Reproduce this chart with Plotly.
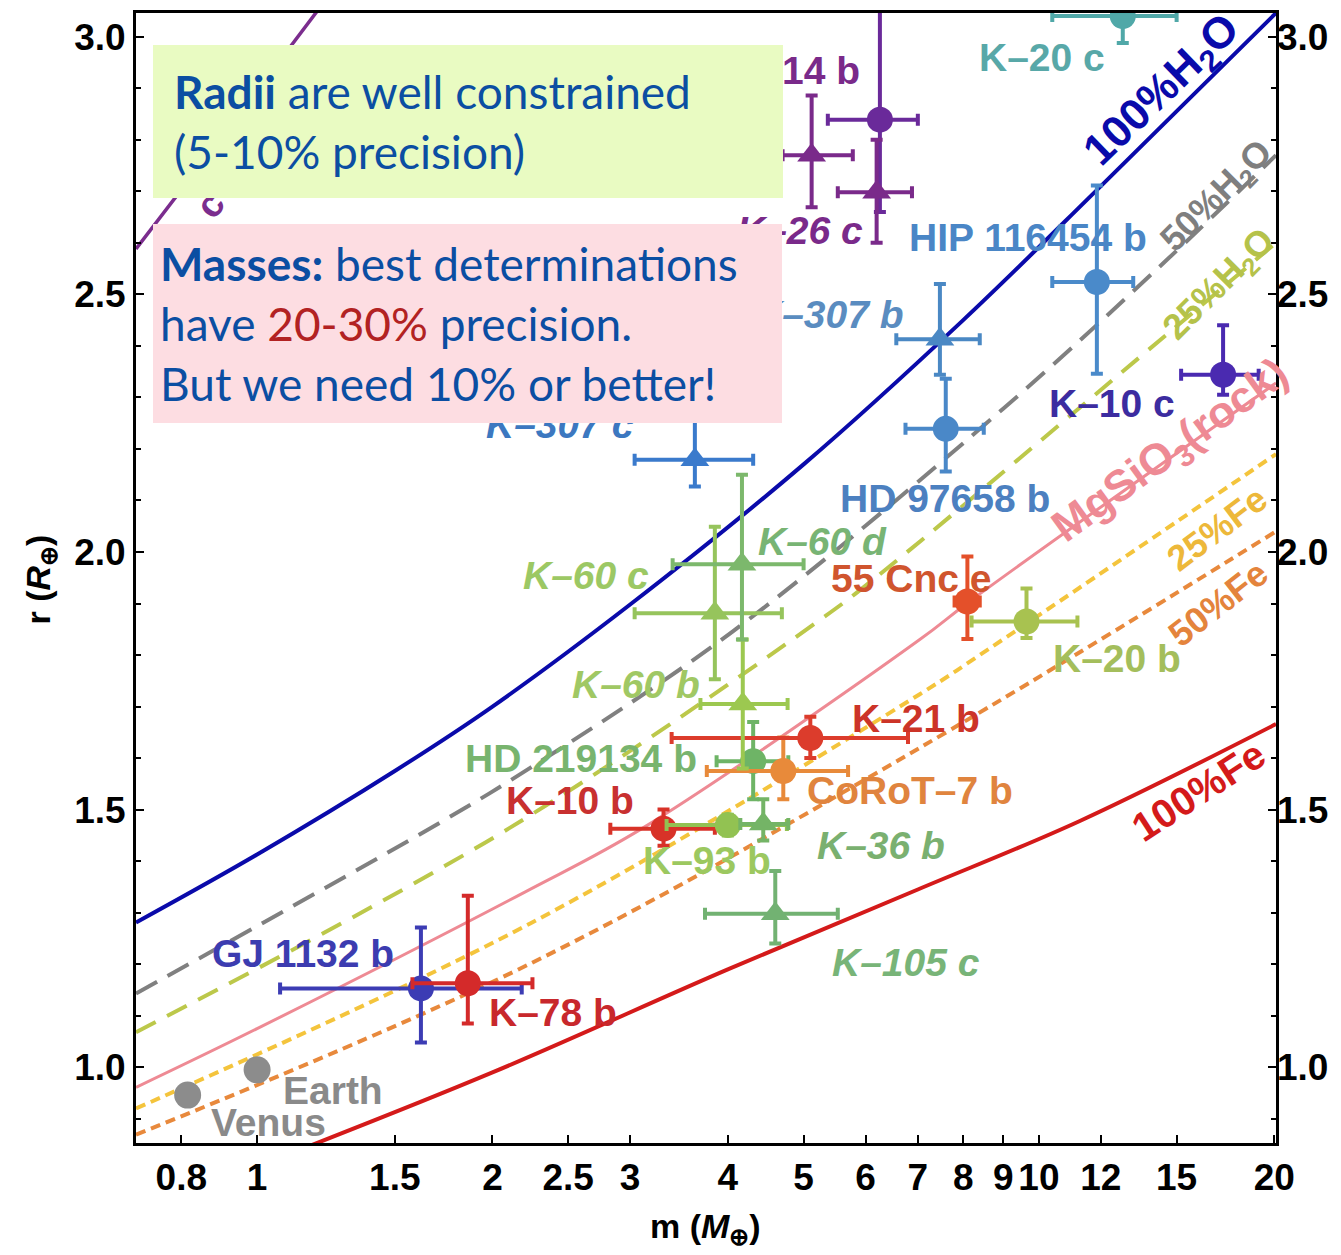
import numpy as np
import plotly.graph_objects as go

# ---------------- data ----------------
# composition curves (mass in Earth masses, radius in Earth radii)
h2o100_m = [0.7, 1.0, 1.5, 2.0, 3.0, 5.0, 8.0, 12.0, 20.1]
h2o100_r = [1.281, 1.413, 1.575, 1.70, 1.898, 2.17, 2.45, 2.71, 3.046]
h2o50_m = [0.7, 1.728, 2.235, 4.06, 9.0, 14.6, 20.1]
h2o50_r = [1.143, 1.478, 1.581, 1.846, 2.278, 2.568, 2.77]
h2o25_m = [0.7, 2.107, 5.29, 6.25, 14.7, 20.1]
h2o25_r = [1.068, 1.465, 1.872, 1.956, 2.427, 2.60]
rock_m = [0.7, 1.0, 2.2, 3.12, 7.04, 8.15, 20.1]
rock_r = [0.961, 1.075, 1.34, 1.465, 1.83, 1.904, 2.328]
fe25_m = [0.7, 2.235, 7.04, 8.65, 20.1]
fe25_r = [0.92, 1.279, 1.724, 1.813, 2.19]
fe50_m = [0.7, 2.235, 7.04, 20.1]
fe50_r = [0.869, 1.201, 1.62, 2.04]
fe100_m = [1.05, 2.0, 4.0, 7.0, 11.28, 20.1]
fe100_r = [0.82, 0.99, 1.19, 1.345, 1.478, 1.666]
env_m = [0.7, 1.0, 1.25]
env_r = [2.588, 2.895, 3.09]

# planets
planet_names = ["Venus", "Earth", "GJ 1132 b", "K-78 b", "K-10 b", "K-93 b", "K-36 b",
                "K-105 c", "HD 219134 b", "CoRoT-7 b", "K-21 b", "K-60 b", "K-60 c",
                "K-60 d", "K-307 c", "K-307 b", "HD 97658 b", "HIP 116454 b", "K-10 c",
                "55 Cnc e", "K-20 b", "K-20 c", "14 b", "K-26 b", "K-26 c"]
mass = [0.815, 1.0, 1.62, 1.86, 3.31, 4.0, 4.44, 4.6, 4.31, 4.71, 5.1, 4.18, 3.85,
        4.17, 3.63, 7.47, 7.6, 11.86, 17.2, 8.1, 9.64, 12.8, 6.26, 5.12, 6.2]
mass_lo = [None, None, 1.07, 1.58, 2.83, 3.34, 4.15, 3.74, 3.87, 3.76, 3.39, 3.69, 3.04,
           3.4, 3.04, 6.57, 6.75, 10.4, 15.2, 7.8, 8.2, 10.4, 5.37, 4.7, 5.53]
mass_hi = [None, None, 2.18, 2.25, 3.85, 4.76, 4.78, 5.53, 4.78, 5.7, 6.8, 4.77, 4.69,
           5.0, 4.31, 8.4, 8.5, 13.2, 19.1, 8.4, 11.2, 15.0, 7.0, 5.78, 6.88]
radius = [0.946, 0.995, 1.153, 1.163, 1.463, 1.47, 1.472, 1.298, 1.594, 1.575, 1.639,
          1.705, 1.881, 1.976, 2.179, 2.413, 2.239, 2.524, 2.344, 1.904, 1.865, 3.04,
          2.839, 2.77, 2.698]
radius_lo = [None, None, 1.048, 1.085, 1.43, 1.45, 1.44, 1.24, 1.52, 1.52, 1.60, 1.58,
             1.753, 1.83, 2.127, 2.344, 2.156, 2.346, 2.305, 1.831, 1.833, 2.988, 2.66,
             2.669, 2.60]
radius_hi = [None, None, 1.271, 1.333, 1.50, 1.49, 1.52, 1.381, 1.67, 1.64, 1.68, 1.83,
             2.049, 2.15, 2.28, 2.52, 2.336, 2.711, 2.44, 1.991, 1.929, 3.10, 3.10,
             2.886, 2.80]

# ---------------- styles ----------------
planet_symbols = ["circle", "circle", "circle", "circle", "circle", "circle", "triangle-up",
                  "triangle-up", "circle", "circle", "circle", "triangle-up", "triangle-up",
                  "triangle-up", "triangle-up", "triangle-up", "circle", "circle", "circle",
                  "circle", "circle", "circle", "circle", "triangle-up", "triangle-up"]
planet_colors = ["#8C8C8C", "#8C8C8C", "#3C3CB4", "#D42A2A", "#D83228", "#92C252", "#74B466",
                 "#72B272", "#6EB466", "#E88A3A", "#DC3C2C", "#9CC850", "#96C45C",
                 "#7CB86C", "#3A7ACC", "#4A88C4", "#4A88C8", "#4A8ACA", "#4A2AB0",
                 "#E4502A", "#A8C250", "#50A8A8", "#6A2A9A", "#7A2A8A", "#7A2A8A"]

W, H = 1341, 1255
ML, MR, MT, MB = 136, 65, 10, 112
PW = W - ML - MR
PH = H - MT - MB


def px(X):
    return (X - ML) / PW


def py(Y):
    return (H - MB - Y) / PH


fig = go.Figure()

curves = [
    (env_m, env_r, "#7B2D8E", 3.5, "solid"),
    (fe100_m, fe100_r, "#D41A1A", 4, "solid"),
    (fe50_m, fe50_r, "#E8893C", 4, "10px,6px"),
    (fe25_m, fe25_r, "#F4C43C", 4, "10px,6px"),
    (rock_m, rock_r, "#EE8A94", 3, "solid"),
    (h2o25_m, h2o25_r, "#BCC84A", 4, "22px,13px"),
    (h2o50_m, h2o50_r, "#808080", 4, "24px,12px"),
    (h2o100_m, h2o100_r, "#0A0AAA", 4, "solid"),
]
for cm, cr, col, lw, dash in curves:
    fig.add_trace(go.Scatter(x=cm, y=cr, mode="lines",
                             line=dict(color=col, width=lw, dash=dash, shape="spline", smoothing=1.0),
                             showlegend=False, hoverinfo="skip"))

for i, name in enumerate(planet_names):
    ex = ey = None
    if mass_lo[i] is not None:
        ex = dict(type="data", symmetric=False, array=[mass_hi[i] - mass[i]],
                  arrayminus=[mass[i] - mass_lo[i]], color=planet_colors[i], thickness=4, width=6)
        ey = dict(type="data", symmetric=False, array=[radius_hi[i] - radius[i]],
                  arrayminus=[radius[i] - radius_lo[i]], color=planet_colors[i], thickness=4, width=6)
    size = 26 if planet_symbols[i] == "circle" else 25
    if name in ("Venus", "Earth"):
        size = 27
    fig.add_trace(go.Scatter(x=[mass[i]], y=[radius[i]], mode="markers", name=name,
                             marker=dict(symbol=planet_symbols[i], color=planet_colors[i],
                                         size=size, line=dict(width=0)),
                             error_x=ex, error_y=ey, showlegend=False))

# invisible trace for the right axis
fig.add_trace(go.Scatter(x=[1], y=[1], yaxis="y2", mode="markers",
                         marker=dict(opacity=0), showlegend=False, hoverinfo="skip"))

ann = []

# planet labels: text, x px, y px, color, italic
labels = [
    ("Earth", 333, 1090, "#8A8A8A", False),
    ("Venus", 268, 1122, "#8A8A8A", False),
    ("GJ 1132 b", 303, 953, "#3C3CB0", False),
    ("K–78 b", 553, 1012, "#C8282C", False),
    ("K–10 b", 570, 800, "#C83030", False),
    ("K–93 b", 707, 860, "#9CC860", False),
    ("K–36 b", 881, 845, "#7AB070", True),
    ("K–105 c", 906, 962, "#78B478", True),
    ("HD 219134 b", 581, 757, "#78B46E", False),
    ("CoRoT–7 b", 910, 790, "#E0843E", False),
    ("K–21 b", 916, 717, "#CC3428", False),
    ("K–60 b", 636, 683, "#A0C864", True),
    ("K–60 c", 586, 574, "#9CC864", True),
    ("K–60 d", 822, 540, "#78B474", True),
    ("55 Cnc e", 911, 577, "#D0552E", False),
    ("K–20 b", 1117, 657, "#A4BE5C", False),
    ("HD 97658 b", 945, 497, "#4C80C0", False),
    ("K–10 c", 1112, 402, "#3C2CA0", False),
    ("HIP 116454 b", 1028, 235, "#4A86C6", False),
    ("K–307 b", 829, 312, "#5A8CC0", True),
    ("K–307 c", 560, 423, "#3C78C0", True),
    ("K–26 c", 800, 228, "#7A2A8A", True),
    ("14 b", 821, 68, "#7A2A8A", False),
    ("K–20 c", 1042, 55, "#58A8A8", False),
]
for t, X, Y, col, it in labels:
    txt = f"<i>{t}</i>" if it else t
    ann.append(dict(x=px(X), y=py(Y), xref="paper", yref="paper", text=txt, showarrow=False,
                    xanchor="center", yanchor="middle",
                    font=dict(family="Liberation Sans", size=39, color=col, weight="bold")))

# curve labels
clabels = [
    ("100%H<sub>2</sub>O", 1163, 88, -44, 44, "#0A0AAA"),
    ("50%H<sub>2</sub>O", 1217, 194, -45, 36, "#7F7F7F"),
    ("25%H<sub>2</sub>O", 1220, 283, -45, 36, "#B5C24A"),
    ("MgSiO<sub>3</sub>(rock)", 1171, 450, -36, 44, "#EE8A94"),
    ("25%Fe", 1217, 527, -37, 36, "#EDB83A"),
    ("50%Fe", 1218, 602, -38, 36, "#E4843C"),
    ("100%Fe", 1198, 790, -33, 40, "#D41A1A"),
    ("c", 210, 203, -52, 38, "#7B2D8E"),
]
for t, X, Y, ang, sz, col in clabels:
    ann.append(dict(x=px(X), y=py(Y), xref="paper", yref="paper", text=t, showarrow=False,
                    textangle=ang, xanchor="center", yanchor="middle",
                    font=dict(family="Liberation Sans", size=sz, color=col, weight="bold")))

# text boxes (drawn after the labels so they cover them)
box_font = dict(family="Lato", size=46, color="#0B4EA2")
ann.append(dict(x=px(153), y=py(42), xref="paper", yref="paper",
                text="<b>Radii</b> are well constrained<br>(5-10% precision)",
                showarrow=False, xanchor="left", yanchor="top", align="left", valign="middle",
                width=588, height=111, borderpad=21, borderwidth=0, bgcolor="#E9FBC2",
                font=box_font))
ann.append(dict(x=px(153), y=py(222), xref="paper", yref="paper",
                text=("<b>Masses:</b> best determinations<br>"
                      "have <span style='color:#B22222'>20-30%</span> precision.<br>"
                      "But we need 10% or better!"),
                showarrow=False, xanchor="left", yanchor="top", align="left", valign="middle",
                width=615, height=185, borderpad=7, borderwidth=0, bgcolor="#FDDDE2",
                font=box_font))

# axis titles
ann.append(dict(x=px(705), y=py(1229), xref="paper", yref="paper",
                text="m (<i>M</i><sub>⊕</sub>)", showarrow=False, xanchor="center", yanchor="middle",
                font=dict(family="Liberation Sans", size=34, color="black", weight="bold")))
ann.append(dict(x=px(40), y=py(578), xref="paper", yref="paper",
                text="r (<i>R</i><sub>⊕</sub>)", showarrow=False, xanchor="center", yanchor="middle",
                textangle=-90,
                font=dict(family="Liberation Sans", size=34, color="black", weight="bold")))

xt_vals = [0.8, 1, 1.5, 2, 2.5, 3, 4, 5, 6, 7, 8, 9, 10, 12, 15, 20]
xt_text = ["0.8", "1", "1.5", "2", "2.5", "3", "4", "5", "6", "7", "8", "9", "10", "12", "15", "20"]
yt_vals = [1.0, 1.5, 2.0, 2.5, 3.0]
yt_text = ["1.0", "1.5", "2.0", "2.5", "3.0"]
y_minor = [0.9, 1.1, 1.2, 1.3, 1.4, 1.6, 1.7, 1.8, 1.9, 2.1, 2.2, 2.3, 2.4, 2.6, 2.7, 2.8, 2.9]
yrange = [0.853, 3.046]
tickfont = dict(family="Liberation Sans", size=37, color="black", weight="bold")

fig.update_layout(
    width=W, height=H, autosize=False,
    margin=dict(l=ML, r=MR, t=MT, b=MB),
    paper_bgcolor="white", plot_bgcolor="white",
    showlegend=False,
    annotations=ann,
    xaxis=dict(type="log", range=[np.log10(0.7), np.log10(20.1)],
               tickvals=xt_vals, ticktext=xt_text, ticks="inside", ticklen=8, tickwidth=2,
               tickcolor="black", showline=True, linewidth=3, linecolor="black", mirror=True,
               showgrid=False, zeroline=False, tickfont=tickfont, tickangle=0,
               ticklabelstandoff=0),
    yaxis=dict(range=yrange, tickvals=yt_vals, ticktext=yt_text, ticks="inside", ticklen=8,
               tickwidth=2, tickcolor="black", showline=True, linewidth=3, linecolor="black",
               mirror=True, showgrid=False, zeroline=False, tickfont=tickfont,
               minor=dict(tickvals=y_minor, ticks="inside", ticklen=5, tickwidth=2,
                          tickcolor="black", showgrid=False),
               ticklabelstandoff=0),
    yaxis2=dict(range=yrange, overlaying="y", side="right", tickvals=yt_vals, ticktext=yt_text,
                ticks="inside", ticklen=8, tickwidth=2, tickcolor="black", showline=False,
                showgrid=False, zeroline=False, tickfont=tickfont,
                minor=dict(tickvals=y_minor, ticks="inside", ticklen=5, tickwidth=2,
                           tickcolor="black", showgrid=False),
                ticklabelstandoff=0),
)

fig.write_html("out.html", config={"displayModeBar": False},
               post_script="document.body.style.margin='0px';")
